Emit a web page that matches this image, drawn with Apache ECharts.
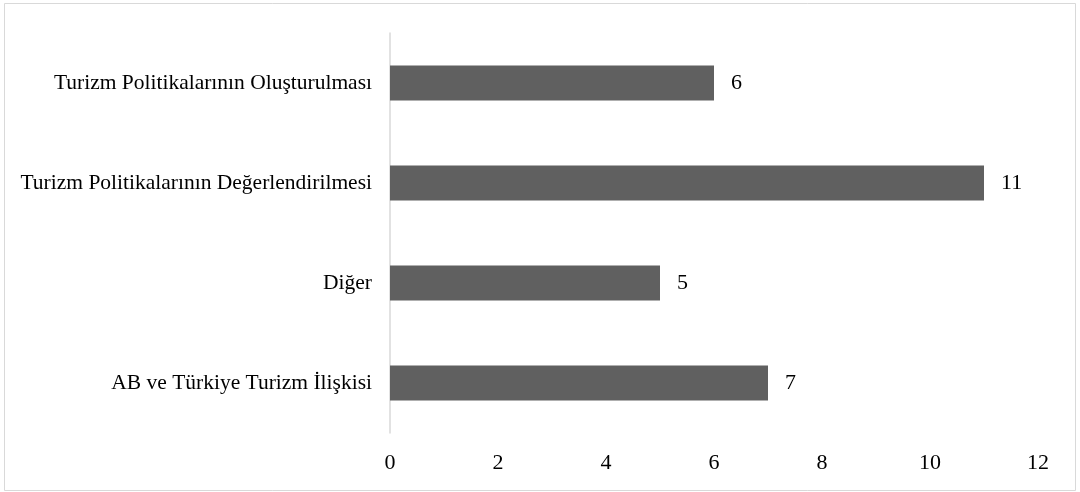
<!DOCTYPE html>
<html><head><meta charset="utf-8">
<script src="https://cdn.jsdelivr.net/npm/echarts@6/dist/echarts.min.js"></script>
<style>html,body{margin:0;padding:0;background:#fff}#c{width:1080px;height:492px}</style>
</head><body><div id="c"></div>
<script>
const categories = ["AB ve Türkiye Turizm İlişkisi", "Diğer", "Turizm Politikalarının Değerlendirilmesi", "Turizm Politikalarının Oluşturulması"];
const values = [7, 5, 11, 6];
const xTicks = [0, 2, 4, 6, 8, 10, 12];

const chart = echarts.init(document.getElementById('c'), null, {renderer: 'canvas'});
const font = '"Liberation Serif", "Times New Roman", serif';
chart.setOption({
  animation: false,
  backgroundColor: '#fff',
  graphic: [{type: 'rect', shape: {x: 4.5, y: 3.5, width: 1071, height: 487}, style: {fill: 'none', stroke: '#d9d9d9', lineWidth: 1}}],
  grid: {left: 390, right: 42, top: 33, bottom: 59, containLabel: false},
  xAxis: {
    type: 'value', min: xTicks[0], max: xTicks[xTicks.length - 1], interval: 2,
    axisLine: {show: false}, axisTick: {show: false}, splitLine: {show: false},
    axisLabel: {color: '#000', fontFamily: font, fontSize: 22, margin: 19}
  },
  yAxis: {
    type: 'category', data: categories,
    axisLine: {show: true, lineStyle: {color: '#d9d9d9', width: 1.5}},
    axisTick: {show: false},
    axisLabel: {color: '#000', fontFamily: font, fontSize: 21.5, margin: 18}
  },
  series: [{
    type: 'bar', data: values, barWidth: 35,
    itemStyle: {color: '#606060'},
    label: {show: true, position: 'right', distance: 17, color: '#000', fontFamily: font, fontSize: 22}
  }]
});
</script></body></html>
